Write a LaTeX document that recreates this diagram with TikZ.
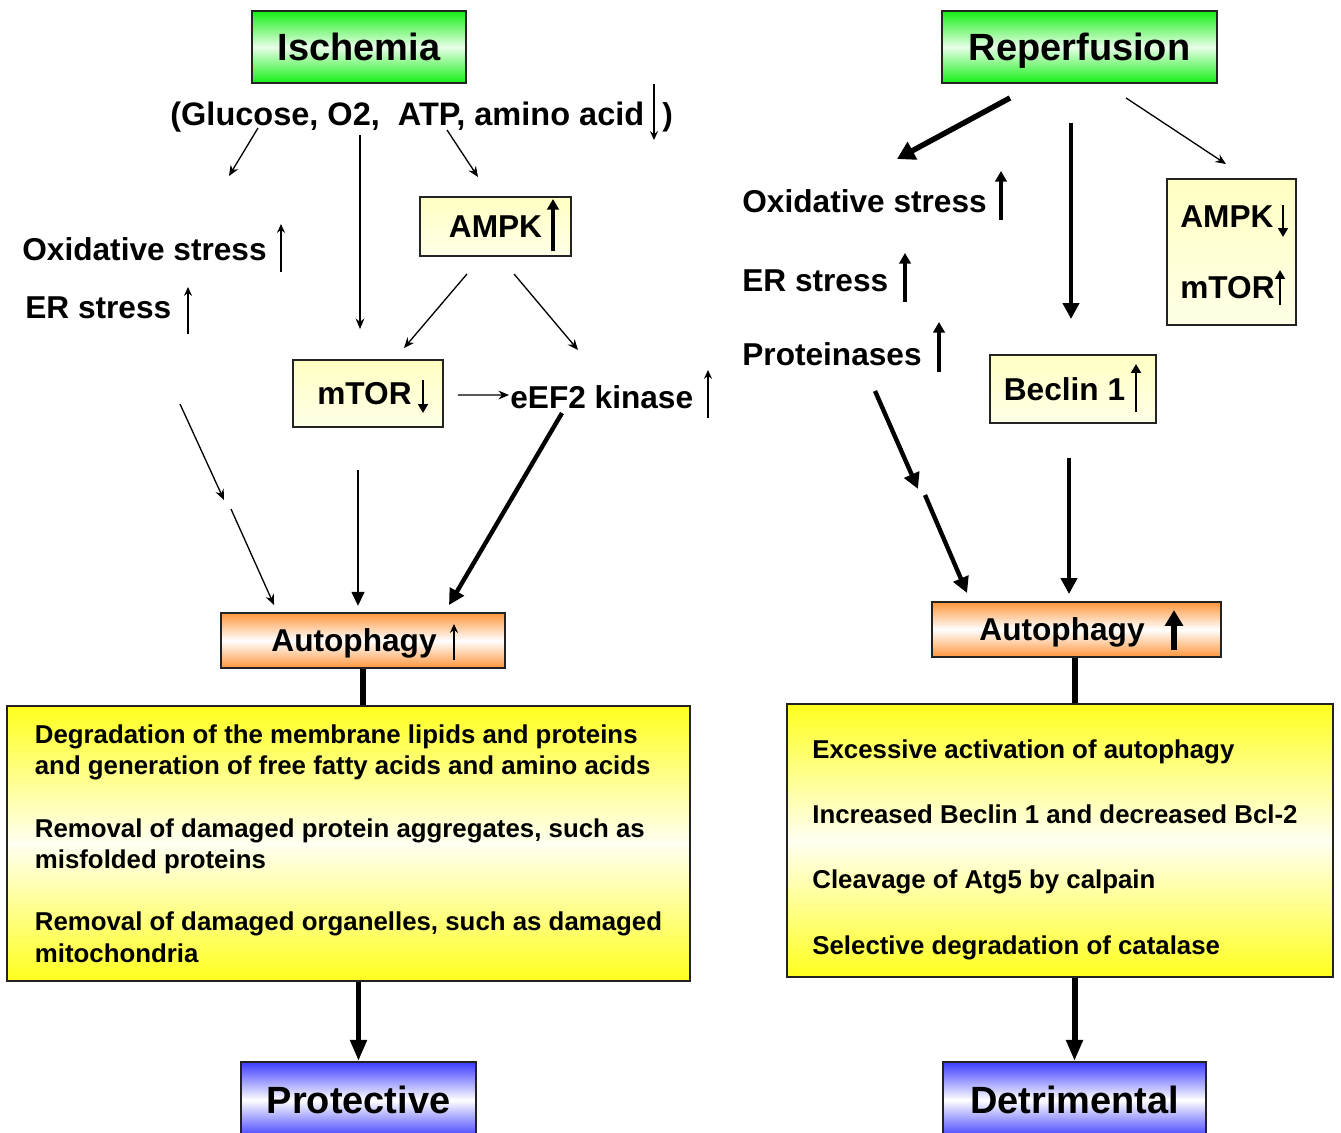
\documentclass[tikz,border=0pt]{standalone}
\usepackage{fontspec}
\setmainfont{Liberation Sans}
\usetikzlibrary{arrows, arrows.meta}
\usetikzlibrary{calc}

\definecolor{grn}{RGB}{20,240,20}
\definecolor{org}{RGB}{255,150,60}
\definecolor{blu}{RGB}{60,60,255}
\definecolor{ylw}{RGB}{255,255,30}
\definecolor{pale}{RGB}{255,255,195}
\definecolor{edge}{RGB}{35,35,35}

\newcommand{\bigfont}{\fontsize{21.6}{26}\selectfont\bfseries}
\newcommand{\midfont}{\fontsize{18}{21}\selectfont\bfseries}
\newcommand{\boxfont}{\fontsize{14.7}{17.9}\selectfont\bfseries}

\begin{document}
\begin{tikzpicture}[x=0.02cm, y=-0.02cm,
    box/.style={draw=edge, line width=1.1pt, inner sep=0pt, align=center},
    grnbox/.style={box, font=\bigfont, text depth=0pt, top color=grn, bottom color=grn, middle color=grn!10},
    blubox/.style={box, font=\bigfont, top color=blu, bottom color=blu, middle color=white},
    orgbox/.style={box, font=\midfont, text depth=0pt, top color=org, bottom color=org, middle color=white},
    palebox/.style={box, font=\midfont, top color=pale, bottom color=pale!40!white},
    ylwbox/.style={box, font=\boxfont, align=left, top color=ylw, bottom color=ylw, middle color=ylw!6},
    txt/.style={inner sep=0pt, font=\midfont, anchor=base west},
    thinarr/.style={line width=0.75pt, -{Stealth[length=6pt, width=5pt]}},
    midarr/.style={line width=1.7pt, -{Triangle[length=8pt, width=7pt]}},
    thkarr/.style={line width=2.5pt, -{Triangle[length=9pt, width=9pt]}},
    fatline/.style={line width=3.4pt},
    fatarr/.style={line width=3.4pt, -{Triangle[length=12pt, width=9pt]}},
    indthin/.style={line width=0.85pt, -{Stealth[length=5pt, width=4.5pt]}},
    indmid/.style={line width=1.6pt, -{Triangle[length=5pt, width=5.5pt]}},
    indthick/.style={line width=2.4pt, -{Triangle[length=6pt, width=6.5pt]}}
  ]
  \fill[white] (0,0) rectangle (1341,1132);
  \useasboundingbox (0,0) rectangle (1341,1132);

  \node[grnbox, minimum width=4.28cm, minimum height=1.44cm] (isch) at (359,47) {Ischemia};
  \node[txt, font=\fontsize{18.5}{21}\selectfont\bfseries] (glu) at (170,125) {(Glucose, O2,\ \ ATP, amino acid};
  \node[txt] (rpar) at (662,125) {)};
  \node[txt] (oxL) at (22,260) {Oxidative stress};
  \node[txt] (erL) at (25,318) {ER stress};
  \node[palebox, minimum width=3.02cm, minimum height=1.18cm] (ampk) at (495.5,226.5) {AMPK};
  \node[palebox, minimum width=3cm, minimum height=1.34cm] (mtor) at (368,393.5) {mTOR\hspace*{0.14cm}};
  \node[txt] (eef) at (510,408) {eEF2 kinase};
  \node[orgbox, minimum width=5.68cm, minimum height=1.1cm] (autoL) at (363,640.5) {Autophagy\hspace*{0.36cm}};
  \node[ylwbox, minimum width=13.66cm, minimum height=5.5cm] (bigL) at (348.5,843.5) {Degradation of the membrane lipids and proteins\\
    and generation of free fatty acids and amino acids\\[17.6pt]
    Removal of damaged protein aggregates, such as\\
    misfolded proteins\\[17.6pt]
    Removal of damaged organelles, such as damaged\\
    mitochondria};
  \node[blubox, minimum width=4.7cm, minimum height=1.52cm] (prot) at (358.5,1100) {Protective};

  \node[grnbox, minimum width=5.5cm, minimum height=1.44cm] (rep) at (1079.5,47) {Reperfusion};
  \node[txt] (oxR) at (742,212) {Oxidative stress};
  \node[txt] (erR) at (742,291) {ER stress};
  \node[txt] (prt) at (742,365) {Proteinases};
  \node[palebox, minimum width=2.58cm, minimum height=2.92cm, align=left] (amb) at (1231.5,252) {AMPK\\[19.4pt]mTOR\hspace*{0.16cm}};
  \node[palebox, minimum width=3.32cm, minimum height=1.36cm] (bec) at (1073,389) {Beclin 1\hspace*{0.34cm}};
  \node[orgbox, minimum width=5.78cm, minimum height=1.1cm] (autoR) at (1076.5,629.5) {Autophagy\hspace*{0.58cm}};
  \node[ylwbox, minimum width=10.92cm, minimum height=5.46cm] (bigR) at (1060,840.5) {\rule{0pt}{21pt}Excessive activation of autophagy\\[19.3pt]
    Increased Beclin 1 and decreased Bcl-2\rule{0.2cm}{0pt}\\[19.3pt]
    Cleavage of Atg5 by calpain\\[19.3pt]
    Selective degradation of catalase};
  \node[blubox, minimum width=5.26cm, minimum height=1.52cm] (detr) at (1074.5,1100) {Detrimental};

  \draw[indthin] ([shift={(484,-41)}]glu.base west) -- ([shift={(484,15)}]glu.base west);
  \draw[indthin] ([shift={(259,12)}]oxL.base west) -- ([shift={(259,-36)}]oxL.base west);
  \draw[indthin] ([shift={(163,16)}]erL.base west) -- ([shift={(163,-31)}]erL.base west);
  \draw[indthick] ([shift={(57.5,24.5)}]ampk.center) -- ([shift={(57.5,-27.5)}]ampk.center);
  \draw[indmid] ([shift={(55,-13.5)}]mtor.center) -- ([shift={(55,19.5)}]mtor.center);
  \draw[indthin] ([shift={(198,10)}]eef.base west) -- ([shift={(198,-38)}]eef.base west);
  \draw[indthin] ([shift={(91,19.5)}]autoL.center) -- ([shift={(91,-16.5)}]autoL.center);

  \draw[thinarr] ([shift={(88,3)}]glu.base west) -- ([shift={(59,51)}]glu.base west);
  \draw[thinarr] ([shift={(190,10)}]glu.base west) -- ([shift={(-8,-30)}]mtor.north);
  \draw[thinarr] ([shift={(277,5)}]glu.base west) -- ([shift={(-17.5,-19)}]ampk.north);
  \draw[thinarr] ([shift={(-28.5,17)}]ampk.south) -- ([shift={(36,-11)}]mtor.north);
  \draw[thinarr] ([shift={(18.5,17)}]ampk.south) -- ([shift={(68,-58)}]eef.base west);
  \draw[thinarr] ([shift={(14,1.5)}]mtor.east) -- ([shift={(-1,-13)}]eef.base west);
  \draw[thinarr] ([shift={(155,86)}]erL.base west) -- ([shift={(199,182)}]erL.base west);
  \draw[thinarr] ([shift={(206,191)}]erL.base west) -- ([shift={(54,-7)}]autoL.north west);
  \draw[midarr] ([shift={(-10,42)}]mtor.south) -- ([shift={(-5,-6)}]autoL.north);
  \draw[thkarr] ([shift={(52,5)}]eef.base west) -- ([shift={(86,-7)}]autoL.north);
  \draw[fatline] (autoL.south) -- (autoL.south |- bigL.north);
  \draw[fatarr] (bigL.south -| prot.north) -- (prot.north);

  \draw[indthick] ([shift={(259,8)}]oxR.base west) -- ([shift={(259,-41)}]oxR.base west);
  \draw[indthick] ([shift={(163,11)}]erR.base west) -- ([shift={(163,-38)}]erR.base west);
  \draw[indthick] ([shift={(197,7)}]prt.base west) -- ([shift={(197,-43)}]prt.base west);
  \draw[indmid] ([shift={(51.5,-47)}]amb.center) -- ([shift={(51.5,-15)}]amb.center);
  \draw[indmid] ([shift={(48.5,53)}]amb.center) -- ([shift={(48.5,18)}]amb.center);
  \draw[indmid] ([shift={(63,23)}]bec.center) -- ([shift={(63,-25)}]bec.center);
  \draw[line width=3.2pt, -{Triangle[length=9pt, width=10pt]}] ([shift={(97.5,20.5)}]autoR.center) -- ([shift={(97.5,-19.5)}]autoR.center);

  \draw[line width=3.1pt, -{Triangle[length=10pt, width=11pt]}] ([shift={(-69.5,14)}]rep.south) -- ([shift={(155,-53)}]oxR.base west);
  \draw[thkarr] ([shift={(-8.5,39)}]rep.south) -- ([shift={(-2,-35)}]bec.north);
  \draw[thinarr] ([shift={(46.5,14)}]rep.south) -- ([shift={(-5.5,-14)}]amb.north);
  \draw[thkarr] ([shift={(133,26)}]prt.base west) -- ([shift={(176,124)}]prt.base west);
  \draw[thkarr] ([shift={(183,130)}]prt.base west) -- ([shift={(36,-8)}]autoR.north west);
  \draw[thkarr] ([shift={(-4,34)}]bec.south) -- ([shift={(-7.5,-7)}]autoR.north);
  \draw[fatline] (autoR.south -| detr.north) -- (bigR.north -| detr.north);
  \draw[fatarr] (bigR.south -| detr.north) -- (detr.north);
\end{tikzpicture}
\end{document}
